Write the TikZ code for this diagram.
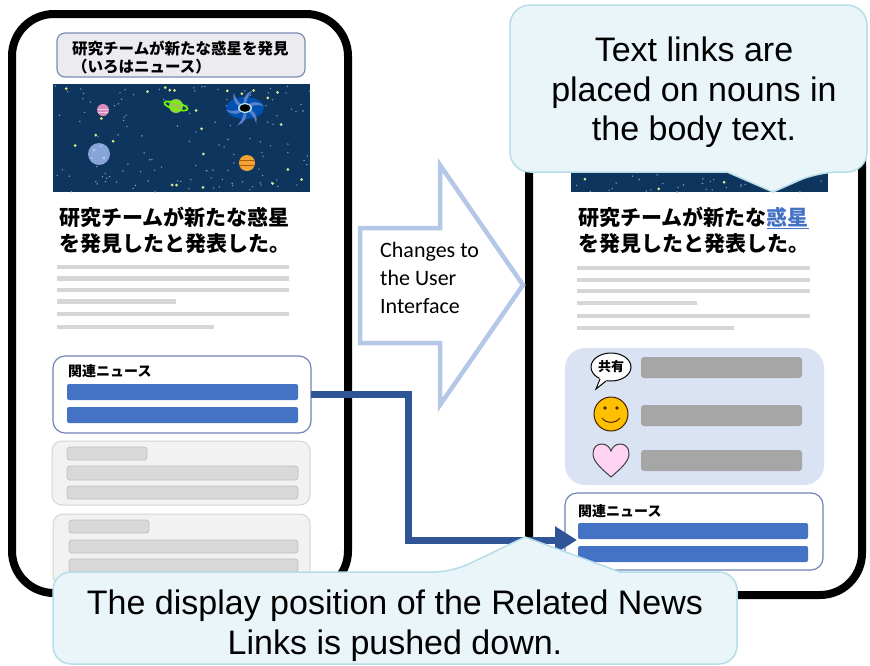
\documentclass[tikz,border=0pt]{standalone}
\usepackage{fontspec}
\setmainfont{Liberation Sans}
\newfontfamily\jpfont{Noto Sans CJK JP}
\newfontfamily\calfont{Carlito}
\usetikzlibrary{arrows.meta}

\definecolor{cnavy}{HTML}{0E355E}
\definecolor{cstardim}{HTML}{7F9CC0}
\definecolor{cstar}{HTML}{DDEB86}
\definecolor{chdrfill}{HTML}{EBEBF0}
\definecolor{chdrline}{HTML}{7B8DB5}
\definecolor{clinegray}{HTML}{D6D6D6}
\definecolor{crelline}{HTML}{6F84B8}
\definecolor{cbarblue}{HTML}{4472C4}
\definecolor{cboxfill}{HTML}{F2F2F2}
\definecolor{cboxline}{HTML}{D4D4D4}
\definecolor{cbarfill}{HTML}{D9D9D9}
\definecolor{cbarline}{HTML}{BFBFBF}
\definecolor{creactfill}{HTML}{DAE3F3}
\definecolor{creactbar}{HTML}{A6A6A6}
\definecolor{carrowblue}{HTML}{B4C7E7}
\definecolor{cconn}{HTML}{2F5597}
\definecolor{ccallfill}{HTML}{EAF5FA}
\definecolor{ccallline}{HTML}{B7DDE8}
\definecolor{clink}{HTML}{4472C4}
\definecolor{csmile}{HTML}{FFC000}
\definecolor{cheart}{HTML}{FFD3F3}
\definecolor{cplanetblue}{HTML}{86A4D8}
\definecolor{cplanetpink}{HTML}{D98BBD}
\definecolor{cplanetgreen}{HTML}{9CCB4A}
\definecolor{cplanetorange}{HTML}{F3A533}

% starry sky panel: #1,#2 top-left corner, #3,#4 bottom-right corner
\newcommand\starfield[4]{%
  \begin{scope}
    \clip (#1,#2) rectangle (#3,#4);
    \fill[cnavy] (#1,#2) rectangle (#3,#4);
    \foreach \k in {1,...,130}{%
      \pgfmathsetmacro\sx{#1+(#3-#1)*rnd}%
      \pgfmathsetmacro\sy{#2+(#4-#2)*rnd}%
      \fill[cstardim] (\sx,\sy) circle (0.8pt);
    }
    \foreach \k in {1,...,24}{%
      \pgfmathsetmacro\sx{#1+(#3-#1)*rnd}%
      \pgfmathsetmacro\sy{#2+(#4-#2)*rnd}%
      \fill[cstar] (\sx,\sy) circle (1.5pt);
    }
  \end{scope}}

\begin{document}
\begin{tikzpicture}[x=1pt,y=-1pt,
  phone/.style={draw=black, line width=8pt, rounded corners=42pt, fill=white},
  hdrbox/.style={draw=chdrline, fill=chdrfill, line width=1.2pt, rounded corners=8pt},
  txtline/.style={draw=clinegray, line width=4.5pt},
  relbox/.style={draw=crelline, fill=white, line width=1.2pt, rounded corners=12pt,
    minimum width=258pt, minimum height=77pt, inner sep=0pt, outer sep=0pt},
  bluebar/.style={fill=cbarblue, rounded corners=2pt},
  greybox/.style={draw=cboxline, fill=cboxfill, line width=1pt, rounded corners=10pt},
  greybar/.style={draw=cbarline, fill=cbarfill, line width=0.8pt, rounded corners=3pt},
  reactbox/.style={fill=creactfill, rounded corners=20pt},
  reactbar/.style={fill=creactbar, rounded corners=3pt},
  blockarrow/.style={draw=carrowblue, fill=white, line width=4.5pt, line join=miter},
  conn/.style={draw=cconn, line width=7pt, line join=miter, -{Triangle[length=22pt,width=26pt]}},
  callout/.style={draw=ccallline, fill=ccallfill, line width=1.5pt},
  jp/.style={inner sep=0pt, anchor=base west},
  headline/.style={jp, font=\jpfont\bfseries\fontsize{21}{26}\selectfont},
  hdrtext/.style={jp, font=\jpfont\bfseries\fontsize{15.5}{18}\selectfont},
  rellabel/.style={jp, font=\jpfont\bfseries\fontsize{14}{16}\selectfont},
  note/.style={inner sep=0pt, anchor=north, align=center, font=\fontsize{34}{39.5}\selectfont}]

\useasboundingbox (0,0) rectangle (870,665);

% ---------------- left phone: article before the change ----------------
\draw[phone] (12,14) rectangle (348,593);

\draw[hdrbox] (57,33) rectangle (305,77);
\node[hdrtext] (hdr1) at (72,54.5) {研究チームが新たな惑星を発見};
\node[hdrtext] (hdr2) at (72,72.5) {（いろはニュース）};

\pgfmathsetseed{17}
\starfield{53}{84}{310}{192}
% planets and a swirling galaxy
\fill[cplanetpink] (103,110) circle (6pt);
\draw[white!55!cplanetpink, line width=0.8pt] (98,109) -- (108,109) (98,112) -- (108,112);
\fill[cplanetblue] (99,154) circle (11pt);
\fill[white!40!cplanetblue] (94,150) circle (1.6pt) (104,158) circle (1.6pt) (101,146) circle (1.1pt) (92,158) circle (1.1pt);
\fill[cplanetorange] (247,163) circle (8pt);
\draw[orange!70!black, line width=0.8pt] (240,160) -- (254,160) (240,165) -- (254,165);
\fill[cplanetgreen] (176,106) circle (7pt);
\draw[green!60!yellow, line width=1.6pt, rotate around={-15:(176,106)}] (176,106) ellipse (12pt and 3.5pt);
\fill[blue!55!cyan!70!black] (245,108) ellipse (19pt and 11pt);
\foreach \a in {0,60,...,300}
  \fill[cyan!40!blue!70, rotate around={\a:(245,108)}]
    (245,108) .. controls (251,100) and (259,101) .. (264,106)
    .. controls (257,104) and (251,106) .. (245,108) -- cycle;
\fill[cyan!30] (245,108) ellipse (7pt and 5pt);
\fill[black] (245,108) ellipse (5.5pt and 3.8pt);

\node[headline] (headL1) at (59,225) {研究チームが新たな惑星};
\node[headline] (headL2) at (59,251) {を発見したと発表した。};

\draw[txtline] (57,267) -- (289,267);
\draw[txtline] (57,278.5) -- (289,278.5);
\draw[txtline] (57,290) -- (289,290);
\draw[txtline] (57,301.5) -- (176,301.5);
\draw[txtline] (57,314) -- (289,314);
\draw[txtline] (57,327) -- (214,327);

\node[relbox] (relL) at (182,394.5) {};
\node[rellabel] (relLlabel) at (68,376.5) {関連ニュース};
\fill[bluebar] (67,384) rectangle (298,400);
\fill[bluebar] (67,407) rectangle (298,423);

\draw[greybox] (52,441) rectangle (310,505);
\draw[greybar] (67,447) rectangle (147,460);
\draw[greybar] (67,466) rectangle (298,480);
\draw[greybar] (67,486) rectangle (298,499);

\draw[greybox] (53,514) rectangle (310,586);
\draw[greybar] (69,520) rectangle (149,533);
\draw[greybar] (69,540) rectangle (298,553);
\draw[greybar] (69,559) rectangle (298,572);

% ---------------- right phone: article after the change ----------------
\draw[phone] (529,14) rectangle (862,595);

\pgfmathsetseed{29}
\starfield{571}{84}{828}{192}

\node[headline] (headR1) at (578,225) {研究チームが新たな{\color{clink}\underline{惑星}}};
\node[headline] (headR2) at (578,251) {を発見したと発表した。};

\draw[txtline] (577,268) -- (810,268);
\draw[txtline] (577,280) -- (810,280);
\draw[txtline] (577,291) -- (810,291);
\draw[txtline] (577,303) -- (697,303);
\draw[txtline] (577,316) -- (810,316);
\draw[txtline] (577,328) -- (734,328);

\fill[reactbox] (565,348) rectangle (824,485);
% share bubble
\draw[black, line width=1pt, fill=white] (611,367) ellipse (20pt and 14pt);
\fill[white] (600,377) -- (596,389) -- (607,380) -- cycle;
\draw[black, line width=1pt] (600,379) -- (596,389) -- (606,381);
\node[inner sep=0pt, font=\jpfont\bfseries\fontsize{13}{14}\selectfont] (share) at (611,367) {共有};
\fill[reactbar] (641,357) rectangle (802,378);
% smiley
\draw[fill=csmile, draw=black!75!orange, line width=1pt] (611,414) circle (17pt);
\fill[black!70!orange] (605,408) circle (1.8pt) (617,408) circle (1.8pt);
\draw[black!70!orange, line width=1pt] (602,418) .. controls (607,424) and (615,424) .. (620,418);
\fill[reactbar] (641,405) rectangle (802,426);
% heart
\draw[fill=cheart, draw=black!75, line width=1pt]
  (611,477) .. controls (603,470) and (593,462) .. (593,454)
  .. controls (593,447) and (597,444) .. (602,444)
  .. controls (607,444) and (610,448) .. (611,451)
  .. controls (612,448) and (615,444) .. (620,444)
  .. controls (625,444) and (629,447) .. (629,454)
  .. controls (629,462) and (619,470) .. (611,477) -- cycle;
\fill[reactbar] (641,450) rectangle (802,471);

\node[relbox] (relR) at (694,531.5) {};
\node[rellabel] (relRlabel) at (578,516.5) {関連ニュース};
\fill[bluebar] (578,523) rectangle (808,539);
\fill[bluebar] (578,546) rectangle (808,562);

% ---------------- transition arrow between the phones ----------------
\draw[blockarrow] (360,228) -- (440,228) -- (440,165) -- (523,285)
  -- (440,405) -- (440,343) -- (360,343) -- cycle;
\node[inner sep=0pt, anchor=west, align=left,
  font=\calfont\fontsize{22}{28}\selectfont] (uitext) at (380,278)
  {Changes to\\the User\\Interface};

% related news moves down
\coordinate (elbow) at (408,540);
\coordinate (relTip) at (577,540);
\draw[conn] (relL.east) -| (elbow) -- (relTip);

% ---------------- explanatory callouts ----------------
\draw[callout, rounded corners=20pt] (600,5) -- (867,5) -- (867,172) -- (818,172)
  [sharp corners] -- (773,192) -- (727,172)
  [rounded corners=20pt] -- (510,172) -- (510,5) -- cycle;
\node[note] (topnote) at (694,37) {Text links are\\placed on nouns in\\the body text.};

\draw[callout, rounded corners=18pt] (53,620) -- (53,572) -- (452,572)
  [sharp corners] -- (525,537) -- (620,572)
  [rounded corners=18pt] -- (737,572) -- (737,664) -- (53,664) -- cycle;
\node[note] (bottomnote) at (395,590) {The display position of the Related News\\Links is pushed down.};

\end{tikzpicture}
\end{document}
